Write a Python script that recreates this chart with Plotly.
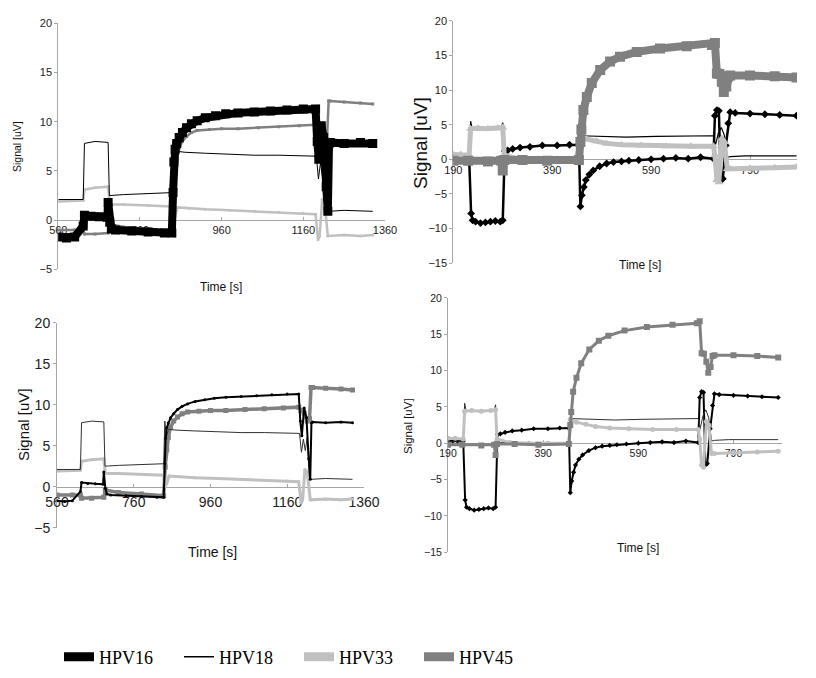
import plotly.graph_objects as go

# the page body adds an 8 px margin, so the figure is placed at (8, 8) of the window
OFF = 8
W, H = 816 - OFF, 678 - OFF

# ---- run A (left panels), time [s] / signal [uV] ----
t_hpv16_a = [560, 580, 600, 621, 624, 640, 660, 680, 682, 686, 690, 700, 740, 780, 820, 838, 841, 843,
             846, 850, 856, 864, 874, 886, 900, 920, 945, 970, 1000, 1040, 1080, 1120, 1160, 1190, 1194,
             1198, 1204, 1210, 1216, 1220, 1223, 1226, 1260, 1300, 1330]
y_hpv16_a = [-1.7, -1.8, -1.7, -0.6, 0.5, 0.4, 0.35, 0.3, 1.8, -0.2, -0.9, -1.0, -1.1, -1.2, -1.3, -1.3, 2.8, 5.9,
             7.2, 7.8, 8.4, 8.9, 9.4, 9.8, 10.1, 10.4, 10.6, 10.8, 10.9, 11.0, 11.1, 11.2, 11.3, 11.3, 8.0,
             6.2, 9.6, 8.4, 3.4, 0.9, 7.8, 7.9, 7.8, 7.9, 7.8]

t_hpv18_a = [560, 600, 621, 624, 650, 682, 685, 720, 780, 838, 841, 845, 850, 870, 920, 980, 1040, 1100,
             1160, 1192, 1197, 1202, 1207, 1212, 1218, 1222, 1260, 1300, 1330]
y_hpv18_a = [2.1, 2.1, 2.1, 7.8, 8.0, 7.9, 2.5, 2.6, 2.7, 2.8, 8.0, 6.0, 7.0, 6.9, 6.8, 6.7, 6.6, 6.6,
             6.5, 6.5, 4.2, 5.8, 4.4, 6.0, 1.0, 0.9, 1.0, 0.9, 0.9]

t_hpv33_a = [560, 600, 621, 624, 650, 682, 686, 720, 780, 838, 841, 846, 852, 880, 920, 980, 1040, 1100,
             1160, 1190, 1196, 1200, 1206, 1212, 1220, 1260, 1300, 1330]
y_hpv33_a = [1.9, 2.0, 2.0, 3.1, 3.3, 3.4, 1.6, 1.6, 1.5, 1.4, 0.0, 0.4, 1.3, 1.2, 1.1, 1.0, 0.9, 0.8,
             0.7, 0.6, -2.0, -1.6, 2.1, 1.8, -1.6, -1.5, -1.6, -1.5]

t_hpv45_a = [560, 600, 621, 624, 650, 682, 686, 720, 780, 838, 842, 846, 850, 856, 864, 874, 886, 900,
             930, 960, 1000, 1050, 1100, 1150, 1190, 1196, 1204, 1212, 1218, 1222, 1226, 1260, 1300, 1330]
y_hpv45_a = [-1.0, -1.0, -1.0, -1.4, -1.4, -1.3, -0.4, -0.7, -0.9, -1.1, 2.4, 4.5, 6.0, 7.3, 8.0, 8.5, 8.9, 9.1,
             9.2, 9.3, 9.3, 9.4, 9.5, 9.6, 9.7, 9.3, 9.0, 8.0, 8.3, 12.1, 12.1, 12.0, 11.9, 11.8]

# ---- run B (right panels) ----
t_hpv16_b = [190, 200, 210, 222, 226, 229, 235, 245, 255, 265, 275, 285, 290, 294, 300, 310, 325, 345, 370,
             400, 425, 444, 447, 450, 454, 458, 465, 473, 486, 500, 514, 530, 545, 565, 590, 615, 640, 665,
             690, 716, 719, 723, 727, 731, 735, 741, 746, 750, 760, 790, 820, 850, 884]
y_hpv16_b = [0.3, 0.3, 0.3, 0.3, -7.8, -8.8, -9.0, -9.2, -9.1, -9.0, -8.9, -9.0, -8.8, 1.2, 1.3, 1.5, 1.7, 1.8, 2.0,
             2.0, 2.1, 2.1, -6.8, -5.2, -4.0, -3.0, -2.2, -1.6, -1.0, -0.6, -0.4, -0.3, -0.2, -0.1, 0.0, 0.1, 0.2, 0.1,
             0.3, 0.1, 6.3, 7.1, 7.0, -3.0, -2.8, 2.0, 5.2, 6.8, 6.7, 6.6, 6.5, 6.4, 6.3]

t_hpv18_b = [190, 222, 225, 228, 260, 287, 290, 293, 340, 400, 444, 447, 480, 540, 600, 660, 716, 720, 726,
             732, 738, 744, 750, 780, 820, 850, 884]
y_hpv18_b = [0.2, 0.2, 5.5, 4.5, 4.5, 4.5, 5.3, 0.1, 0.1, 0.1, 0.1, 3.4, 3.3, 3.2, 3.3, 3.3, 3.4, 2.0, 3.8,
             4.6, 3.5, 0.3, 0.4, 0.5, 0.5, 0.6, 0.5]

t_hpv33_b = [190, 205, 222, 225, 240, 260, 280, 290, 293, 320, 360, 400, 444, 447, 460, 480, 500, 530, 570,
             620, 670, 716, 719, 723, 727, 733, 738, 744, 750, 790, 840, 884]
y_hpv33_b = [0.7, 0.7, 0.6, 4.4, 4.5, 4.4, 4.5, 4.6, 0.6, 0.1, 0.0, 0.0, 0.0, 3.3, 2.9, 2.6, 2.3, 2.1, 2.0,
             1.9, 1.9, 1.9, 0.6, -3.0, -3.3, 3.0, 2.5, -1.4, -1.4, -1.3, -1.2, -1.1]

t_hpv45_b = [190, 220, 260, 287, 290, 293, 330, 380, 444, 447, 449, 453, 460, 470, 487, 507, 527, 561, 608,
             662, 713, 719, 723, 728, 733, 737, 742, 746, 750, 790, 840, 884]
y_hpv45_b = [-0.2, -0.2, -0.3, -0.2, -1.6, -0.1, -0.1, -0.2, -0.1, 2.5, 4.3, 7.1, 9.0, 11.0, 12.9, 14.1, 14.8,
             15.5, 16.0, 16.3, 16.5, 16.8, 12.4, 12.3, 11.2, 9.7, 10.5, 12.0, 12.1, 12.1, 12.0, 11.8]

series_names = ["HPV16", "HPV18", "HPV33", "HPV45"]
x_ticks_a = [560, 760, 960, 1160, 1360]
x_ticks_b = [190, 390, 590, 790]

BLACK, DARK, LIGHT, GRAY = "#000000", "#303030", "#c0c0c0", "#808080"
AXIS = "#a6a6a6"
SANS = "Liberation Sans, Arial, sans-serif"

run_a = {"HPV16": (t_hpv16_a, y_hpv16_a), "HPV18": (t_hpv18_a, y_hpv18_a),
         "HPV33": (t_hpv33_a, y_hpv33_a), "HPV45": (t_hpv45_a, y_hpv45_a)}
run_b = {"HPV16": (t_hpv16_b, y_hpv16_b), "HPV18": (t_hpv18_b, y_hpv18_b),
         "HPV33": (t_hpv33_b, y_hpv33_b), "HPV45": (t_hpv45_b, y_hpv45_b)}


def fx(px):
    return (px - OFF) / W


def fy(px):
    return 1 - (px - OFF) / H


# panel boxes in window pixels (left, right, top, bottom) and per-series styles
panels = [
    dict(run=run_a, box=(58.3, 385, 23.3, 269.4), xr=(560, 1360), yr=(-5, 20), xt=x_ticks_a,
         tick=11, order=["HPV45", "HPV33", "HPV18", "HPV16"],
         style={"HPV16": (BLACK, 8, "square", 9), "HPV18": (BLACK, 1, None, 0),
                "HPV33": (LIGHT, 2.5, "circle", 3), "HPV45": (GRAY, 2.5, "square", 3)},
         ylab=(17, 147, 10.5), xlab=(221, 287, 12)),
    dict(run=run_b, box=(453.3, 797, 20.7, 263.3), xr=(190, 885), yr=(-15, 20), xt=x_ticks_b,
         tick=11, order=["HPV16", "HPV18", "HPV33", "HPV45"],
         style={"HPV16": (BLACK, 2.5, "diamond", 6), "HPV18": (BLACK, 1.2, None, 0),
                "HPV33": (LIGHT, 5, "triangle-up", 8), "HPV45": (GRAY, 8, "square", 10)},
         ylab=(420, 143, 19), xlab=(640, 265, 12)),
    dict(run=run_a, box=(57, 364, 322.7, 527.7), xr=(560, 1360), yr=(-5, 20), xt=x_ticks_a,
         tick=14, order=["HPV45", "HPV33", "HPV18", "HPV16"],
         style={"HPV16": (BLACK, 2, "circle", 3), "HPV18": (DARK, 1, None, 0),
                "HPV33": (LIGHT, 3, "circle", 3), "HPV45": (GRAY, 3.5, "square", 5)},
         ylab=(23, 425, 15), xlab=(212, 552, 14)),
    dict(run=run_b, box=(448, 782, 297.9, 552.3), xr=(190, 892), yr=(-15, 20), xt=x_ticks_b,
         tick=10.5, order=["HPV16", "HPV18", "HPV33", "HPV45"],
         style={"HPV16": (BLACK, 2, "diamond", 4), "HPV18": (DARK, 1, None, 0),
                "HPV33": (LIGHT, 3, "circle", 5), "HPV45": (GRAY, 3, "square", 6)},
         ylab=(408, 426, 11.5), xlab=(638, 548, 12)),
]

fig = go.Figure()
layout = {}
annotations = []

for i, p in enumerate(panels, start=1):
    sfx = "" if i == 1 else str(i)
    left, right, top, bottom = p["box"]
    ydom = [fy(bottom), fy(top)]
    y0, y1 = p["yr"]
    zero_pos = ydom[0] + (0 - y0) / (y1 - y0) * (ydom[1] - ydom[0])

    for name in p["order"]:
        color, width, symbol, msize = p["style"][name]
        t, v = p["run"][name]
        fig.add_trace(go.Scatter(
            x=t, y=v, name=name, showlegend=False,
            mode="lines+markers" if symbol else "lines",
            line=dict(color=color, width=width),
            marker=dict(symbol=symbol or "circle", size=msize, color=color),
            xaxis="x" + sfx, yaxis="y" + sfx,
        ))

    layout["xaxis" + sfx] = dict(
        domain=[fx(left), fx(right)], range=list(p["xr"]), anchor="free", position=zero_pos,
        tickmode="array", tickvals=p["xt"], showline=True, linecolor=AXIS, linewidth=1,
        ticks="inside", ticklen=3, tickcolor=AXIS, showgrid=False, zeroline=False, automargin=False,
        ticklabelstandoff=2 if p["tick"] > 12 else 0,
        tickfont=dict(family=SANS, size=p["tick"], color="#222"), layer="below traces",
    )
    layout["yaxis" + sfx] = dict(
        domain=ydom, range=[y0, y1], anchor="x" + sfx, dtick=5, automargin=False,
        showline=True, linecolor=AXIS, linewidth=1, ticks="outside", ticklen=3, tickcolor=AXIS,
        showgrid=False, zeroline=False, tickfont=dict(family=SANS, size=p["tick"], color="#222"),
        layer="below traces",
    )
    lx, ly, ls = p["ylab"]
    annotations.append(dict(text="Signal [uV]", x=fx(lx), y=fy(ly), xref="paper", yref="paper",
                            xanchor="center", yanchor="middle", showarrow=False, textangle=-90,
                            font=dict(family=SANS, size=ls, color="#111")))
    tx, ty, ts = p["xlab"]
    annotations.append(dict(text="Time [s]", x=fx(tx), y=fy(ty), xref="paper", yref="paper",
                            xanchor="center", yanchor="middle", showarrow=False,
                            font=dict(family=SANS, size=ts, color="#111")))

# legend entries
legend_style = {"HPV16": (BLACK, 9), "HPV18": (BLACK, 1.5), "HPV33": (LIGHT, 9), "HPV45": (GRAY, 9)}
for name in series_names:
    color, width = legend_style[name]
    fig.add_trace(go.Scatter(x=[None], y=[None], mode="lines", name=name,
                             line=dict(color=color, width=width), xaxis="x", yaxis="y"))

fig.update_layout(
    width=W, height=H, margin=dict(l=0, r=0, t=0, b=0),
    paper_bgcolor="white", plot_bgcolor="white",
    annotations=annotations,
    legend=dict(orientation="h", x=fx(59), y=fy(657), xanchor="left", yanchor="middle",
                entrywidth=75, entrywidthmode="pixels", itemwidth=30,
                font=dict(family="Liberation Serif, Times New Roman, serif", size=18, color="#000")),
    **layout,
)

fig.write_html("out.html")
